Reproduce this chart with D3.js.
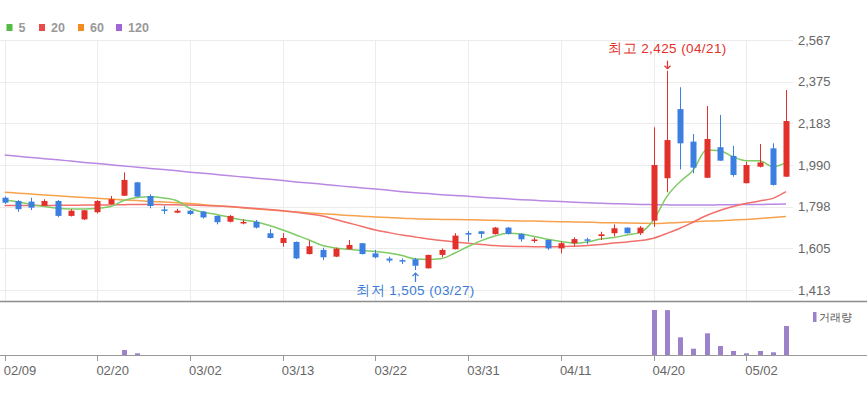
<!DOCTYPE html>
<html>
<head>
<meta charset="utf-8">
<script src="https://cdn.jsdelivr.net/npm/d3@7"></script>
<style>
  body { margin: 0; background: #fff; }
  svg { display: block; }
  text { font-family: "Liberation Sans", Arial, sans-serif; }
</style>
</head>
<body>
<svg id="chart"></svg>
<script>
// trading days (2017)
const dates = ["02/09","02/10","02/13","02/14","02/15","02/16","02/17","02/20","02/21","02/22",
  "02/23","02/24","02/27","02/28","03/02","03/03","03/06","03/07","03/08","03/09",
  "03/10","03/13","03/14","03/15","03/16","03/17","03/20","03/21","03/22","03/23",
  "03/24","03/27","03/28","03/29","03/30","03/31","04/03","04/04","04/05","04/06",
  "04/07","04/10","04/11","04/12","04/13","04/14","04/17","04/18","04/19","04/20",
  "04/21","04/24","04/25","04/26","04/27","04/28","05/02","05/04","05/08","05/10"];

const opens  = [1839,1824,1821,1802,1824,1755,1739,1772,1810,1848, 1910,1847,1785,1770,1779,1775,1755,1728,1723,1728,
  1675,1630,1635,1579,1598,1567,1601,1629,1582,1558, 1551,1555,1513,1575,1601,1676,1684,1671,1701,1672,
  1641,1644,1605,1629,1647,1662,1675,1701,1675,1733, 1929,2248,2098,1931,2072,2032,1906,1982,2067,1936];
const highs  = [1845,1828,1839,1832,1828,1786,1782,1828,1847,1956, 1912,1855,1801,1788,1782,1778,1757,1759,1739,1736,
  1695,1675,1637,1641,1608,1608,1644,1630,1598,1567, 1559,1561,1576,1605,1675,1685,1685,1704,1704,1674,
  1656,1646,1636,1656,1654,1682,1716,1702,1708,2164, 2425,2349,2133,2262,2221,2078,2005,2087,2090,2336];
const lows   = [1810,1774,1782,1801,1749,1752,1736,1767,1808,1847, 1842,1790,1764,1768,1759,1743,1716,1725,1716,1697,
  1651,1613,1556,1577,1551,1565,1599,1577,1559,1539, 1533,1505,1512,1564,1600,1636,1652,1669,1669,1636,
  1631,1598,1582,1617,1624,1644,1661,1674,1667,1705, 1864,1970,1952,1930,2009,1936,1905,1979,1895,1935];
const closes = [1816,1786,1793,1824,1755,1779,1781,1824,1832,1921, 1844,1801,1780,1779,1764,1748,1726,1755,1727,1701,
  1653,1653,1559,1615,1564,1604,1621,1579,1564,1549, 1544,1525,1575,1598,1664,1672,1672,1701,1672,1647,
  1646,1605,1629,1648,1641,1670,1698,1675,1701,1990, 2105,2090,1978,2110,2010,1944,1990,2002,1898,2193];

const volumes = [0,0,0,0,0,0,0,0,0,500, 170,0,0,0,0,0,0,0,0,0,
  0,0,0,0,0,0,0,0,0,0, 0,0,0,0,0,0,0,0,0,0,
  0,0,0,0,0,0,0,0,0,4510, 4490,1770,630,2170,900,400,170,400,270,2900];

// moving averages
const ma5 = [1828,1819,1808,1798,1790,1787,1787,1790,1798,1826, 1840,1844,1838,1825,1789,1772,1762,1748,1736,1727,
  1711,1690,1667,1644,1618,1607,1601,1595,1591,1584, 1572,1556,1554,1558,1584,1614,1641,1662,1675,1671,
  1660,1647,1637,1629,1635,1648,1655,1667,1679,1736, 1844,1913,1967,2059,2056,2028,2010,2010,1982,2001];
const ma20 = [1803,1803,1803,1803,1804,1804,1805,1805,1806,1807, 1808,1808,1807,1806,1805,1803,1801,1798,1794,1789,
  1785,1779,1772,1764,1755,1738,1722,1706,1690,1678, 1667,1658,1648,1641,1635,1629,1623,1618,1615,1614,
  1613,1613,1613,1615,1618,1623,1630,1635,1641,1652, 1674,1698,1727,1757,1780,1798,1813,1824,1836,1867];
const ma60 = [1864,1860,1856,1852,1848,1844,1840,1836,1833,1829, 1826,1822,1819,1816,1812,1807,1802,1797,1792,1787,
  1782,1778,1773,1769,1765,1761,1757,1754,1750,1748, 1744,1742,1740,1739,1738,1737,1736,1735,1733,1732,
  1731,1729,1728,1727,1726,1724,1723,1722,1721,1720, 1722,1725,1728,1731,1733,1736,1739,1743,1748,1752];
const ma120 = [2036,2030,2025,2019,2014,2008,2002,1997,1991,1985, 1980,1974,1969,1963,1957,1952,1946,1940,1935,1929,
  1924,1918,1912,1907,1901,1895,1890,1884,1879,1873, 1867,1862,1858,1853,1849,1846,1841,1838,1834,1830,
  1827,1824,1821,1818,1816,1813,1811,1810,1808,1807, 1806,1805,1805,1805,1806,1807,1808,1808,1809,1810];

const yTickValues = [1413, 1605, 1798, 1990, 2183, 2375, 2567];
const xTickLabels = ["02/09","02/20","03/02","03/13","03/22","03/31","04/11","04/20","05/02"];
const maNames = ["5", "20", "60", "120"];

const W = 867, H = 397;
const plotLeft = 4.7, plotRight = 786, gridRight = 793;
const priceTop = 40, priceBottom = 290, paneSep = 301.5;
const volTop = 310, volBottom = 355;

const upColor = "#e2312b", downColor = "#3b7fe1";
const maLineColors = ["#7fcb66", "#f2706b", "#f7a24c", "#b888e2"];
const maLegendColors = ["#55bb44", "#ea4a4a", "#f48b1f", "#a066d6"];

const svg = d3.select("#chart").attr("width", W).attr("height", H);

const x = d3.scalePoint().domain(dates).range([plotLeft, plotRight]);
const y = d3.scaleLinear().domain([1413, 2567]).range([priceBottom, priceTop]);
const yVol = d3.scaleLinear().domain([0, 4500]).range([volBottom, volTop]).clamp(true);

// grid
svg.append("g").selectAll("line").data(yTickValues).join("line")
  .attr("x1", 0).attr("x2", gridRight)
  .attr("y1", d => Math.round(y(d)) + 0.5).attr("y2", d => Math.round(y(d)) + 0.5)
  .attr("stroke", "#ececec");
svg.append("g").selectAll("line").data(xTickLabels).join("line")
  .attr("x1", d => Math.round(x(d)) + 0.5).attr("x2", d => Math.round(x(d)) + 0.5)
  .attr("y1", priceTop).attr("y2", paneSep)
  .attr("stroke", "#ececec");

// y axis labels on the right
svg.append("g").selectAll("text").data(yTickValues).join("text")
  .attr("x", 798).attr("y", d => y(d) + 4.5)
  .attr("font-size", "13px").attr("fill", "#666")
  .text(d => d3.format(",")(d));

// moving average lines
const maSeries = [ma5, ma20, ma60, ma120];
const line = d3.line()
  .x((d, i) => x(dates[i]))
  .y(d => y(d))
  .curve(d3.curveMonotoneX);
maSeries.slice().reverse().forEach((s, k) => {
  const idx = 3 - k;
  svg.append("path")
    .attr("d", line(s))
    .attr("fill", "none")
    .attr("stroke", maLineColors[idx])
    .attr("stroke-width", 1.5);
});

// candles
const candles = dates.map((d, i) => ({ date: d, o: opens[i], h: highs[i], l: lows[i], c: closes[i] }));
const cg = svg.append("g").selectAll("g").data(candles).join("g");
cg.append("line")
  .attr("x1", d => Math.round(x(d.date)) + 0.5).attr("x2", d => Math.round(x(d.date)) + 0.5)
  .attr("y1", d => y(d.h)).attr("y2", d => y(d.l))
  .attr("stroke", d => d.c >= d.o ? upColor : downColor)
  .attr("stroke-width", 1);
cg.append("rect")
  .attr("x", d => Math.round(x(d.date)) - 2.5)
  .attr("width", 6)
  .attr("y", d => y(Math.max(d.o, d.c)))
  .attr("height", d => Math.max(1.5, Math.abs(y(d.o) - y(d.c))))
  .attr("fill", d => d.c >= d.o ? upColor : downColor);

// high / low markers
const hiIdx = d3.maxIndex(highs), loIdx = d3.minIndex(lows);
const hx = Math.round(x(dates[hiIdx])) + 0.5, lx = Math.round(x(dates[loIdx])) + 0.5;
svg.append("text")
  .attr("x", hx).attr("y", 53)
  .attr("text-anchor", "middle")
  .attr("font-family", "'Noto Sans CJK KR', sans-serif")
  .attr("font-size", "13.5px").attr("letter-spacing", "0.4px").attr("fill", "#e3312b")
  .text(`최고 ${d3.format(",")(highs[hiIdx])} (${dates[hiIdx]})`);
svg.append("path")
  .attr("d", `M${hx},${y(highs[hiIdx]) - 10}V${y(highs[hiIdx]) - 2}M${hx - 3},${y(highs[hiIdx]) - 5}L${hx},${y(highs[hiIdx]) - 2}L${hx + 3},${y(highs[hiIdx]) - 5}`)
  .attr("fill", "none").attr("stroke", "#e3312b").attr("stroke-width", 1.2);
svg.append("text")
  .attr("x", lx).attr("y", 295)
  .attr("text-anchor", "middle")
  .attr("font-family", "'Noto Sans CJK KR', sans-serif")
  .attr("font-size", "13.5px").attr("letter-spacing", "0.4px").attr("fill", "#3b7bd6")
  .text(`최저 ${d3.format(",")(lows[loIdx])} (${dates[loIdx]})`);
svg.append("path")
  .attr("d", `M${lx},${y(lows[loIdx]) + 12}V${y(lows[loIdx]) + 3}M${lx - 3},${y(lows[loIdx]) + 6}L${lx},${y(lows[loIdx]) + 3}L${lx + 3},${y(lows[loIdx]) + 6}`)
  .attr("fill", "none").attr("stroke", "#3b7bd6").attr("stroke-width", 1.2);

// pane separator + volume baseline
svg.append("line").attr("x1", 0).attr("x2", W).attr("y1", paneSep).attr("y2", paneSep)
  .attr("stroke", "#8c8c8c").attr("stroke-width", 1.5);
svg.append("g").selectAll("rect").data(volumes.map((v, i) => ({ v, i })).filter(d => d.v > 0)).join("rect")
  .attr("x", d => Math.round(x(dates[d.i])) - 2)
  .attr("width", 5)
  .attr("y", d => yVol(d.v))
  .attr("height", d => volBottom - yVol(d.v))
  .attr("fill", "#9b82cb");
svg.append("line").attr("x1", 0).attr("x2", W).attr("y1", volBottom + 0.5).attr("y2", volBottom + 0.5)
  .attr("stroke", "#999");

// x axis ticks + labels
svg.append("g").selectAll("line").data(xTickLabels).join("line")
  .attr("x1", d => Math.round(x(d)) + 0.5).attr("x2", d => Math.round(x(d)) + 0.5)
  .attr("y1", volBottom).attr("y2", volBottom + 6)
  .attr("stroke", "#999");
svg.append("g").selectAll("text").data(xTickLabels).join("text")
  .attr("x", d => x(d) - 1).attr("y", 375)
  .attr("font-size", "13px").attr("fill", "#666")
  .text(d => d);

// volume legend
svg.append("rect").attr("x", 813).attr("y", 312).attr("width", 3.5).attr("height", 10).attr("fill", "#9b82cb");
svg.append("text").attr("x", 819).attr("y", 321)
  .attr("font-family", "'Noto Sans CJK KR', sans-serif")
  .attr("font-size", "11px").attr("fill", "#555")
  .text("거래량");

// MA legend on top
const legendX = [6.5, 39, 78, 116];
const lg = svg.append("g").selectAll("g").data(maNames).join("g")
  .attr("transform", (d, i) => `translate(${legendX[i]},24)`);
lg.append("rect").attr("width", 6).attr("height", 7)
  .attr("fill", (d, i) => maLegendColors[i]);
lg.append("text").attr("x", 12).attr("y", 8)
  .attr("font-size", "12.5px").attr("font-weight", "bold").attr("fill", "#999")
  .text(d => d);
</script>
</body>
</html>
